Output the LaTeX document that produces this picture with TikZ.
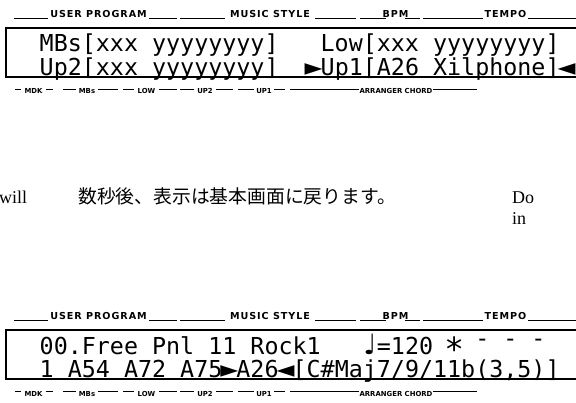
\documentclass[tikz,border=0pt]{standalone}
\usepackage{fontspec}
\setmainfont{Liberation Serif}
\newfontfamily\lcdfont{DejaVu Sans Mono}
\newfontfamily\symfont{DejaVu Sans}
\newfontfamily\hdrfont{DejaVu Sans}[LetterSpace=10]
\newfontfamily\ftrfont{DejaVu Sans}
\newfontfamily\jpfont{Noto Sans CJK JP}
\newcommand\lc[1]{\makebox[14.05pt][c]{\symfont #1}}
\newcommand\bl{\makebox[14.05pt]{}}
\newcommand\dsh{\makebox[14.05pt][c]{\raisebox{8pt}{-}}}
\tikzset{
  lcd/.style={anchor=base west, inner sep=0pt, font=\lcdfont\fontsize{23.34}{24}\selectfont},
  hdr/.style={anchor=base, inner sep=0pt, font=\hdrfont\bfseries\fontsize{9.6}{10}\selectfont},
  ftr/.style={anchor=base, inner sep=0pt, font=\ftrfont\bfseries\fontsize{6.9}{7}\selectfont},
  rule/.style={line width=0.8pt},
  frame/.style={line width=1.3pt},
  prose/.style={anchor=base west, inner sep=0pt, font=\fontsize{18}{20}\selectfont},
}
\newcommand\panelframe{%
  \node[hdr] (hu) at (98.5,18) {USER PROGRAM};
  \node[hdr] (hm) at (270,18) {MUSIC STYLE};
  \node[hdr] (hb) at (395.5,18) {BPM};
  \node[hdr] (ht) at (505.5,18) {TEMPO};
  \draw[rule] (14,18.6)--(48,18.6) (149,18.6)--(177,18.6)
              (180,18.6)--(225,18.6) (315,18.6)--(356,18.6)
              (360,18.6)--(386,18.6) (405,18.6)--(420,18.6)
              (423,18.6)--(483,18.6) (528,18.6)--(580,18.6);
  \draw[frame] (6,28) rectangle (590,77);
  \node[ftr] (fa) at (33.5,94) {MDK};
  \node[ftr] (fb) at (87,94) {MBs};
  \node[ftr] (fc) at (146.5,94) {LOW};
  \node[ftr] (fd) at (205,94) {UP2};
  \node[ftr] (fe) at (264,94) {UP1};
  \node[ftr] (ff) at (396,94) {ARRANGER CHORD};
  \draw[rule] (15,89)--(21,89) (46,89)--(53,89)
              (63,89)--(76,89) (98,89)--(118,89)
              (123,89)--(134,89) (159,89)--(177,89)
              (180,89)--(194,89) (216,89)--(233,89)
              (238,89)--(254,89) (274,89)--(285,89)
              (290,89)--(359,89) (433,89)--(477,89);
}
\begin{document}
\begin{tikzpicture}[x=1pt,y=-1pt]
\useasboundingbox (0,0) rectangle (576,403);
\fill[white] (0,0) rectangle (576,403);
\clip (0,0) rectangle (576,403);
% top display
\begin{scope}[name prefix=t-]
  \panelframe
  \node[lcd] (r1) at (39.5,52) {MBs[xxx yyyyyyyy]\bl\bl\bl Low[xxx yyyyyyyy]};
  \node[lcd] (r2) at (39.5,76) {Up2[xxx yyyyyyyy]\bl\bl\lc{►}Up1[A26 Xilphone]\lc{◄}};
\end{scope}
% middle prose
\node[prose] (will) at (-1,204) {will};
\node[anchor=base west, inner sep=0pt, font=\jpfont\fontsize{18.8}{20}\selectfont] (jp) at (78,204) {数秒後、表示は基本画面に戻ります。};
\node[prose] (do) at (512,204) {Do};
\node[prose] (in) at (512,225) {in};
% bottom display
\begin{scope}[shift={(0,302)}, name prefix=b-]
  \panelframe
  \node[lcd] (r1) at (39.5,52.5) {00.Free Pnl 11 Rock1\bl\bl\bl\lc{\scalebox{1.2}{♩}}=120\bl\lc{\lcdfont\scalebox{1.4}{∗}}\bl\dsh\bl\dsh\bl\dsh};
  \node[lcd] (r2) at (39.5,76) {1 A54 A72 A75\lc{►}A26\lc{◄}[C\#Maj7/9/11b(3,5)]};
\end{scope}
\end{tikzpicture}
\end{document}
